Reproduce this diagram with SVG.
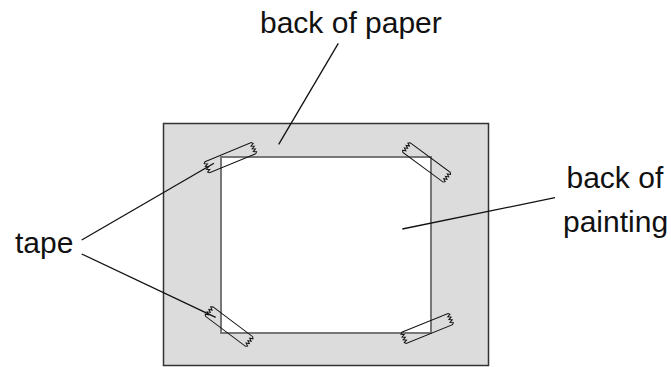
<svg xmlns="http://www.w3.org/2000/svg" width="671" height="367" viewBox="0 0 671 367">
<style>
.lbl{font-family:"Liberation Sans",Arial,sans-serif;font-size:30px;fill:#111}
.tape{fill:none;stroke:#111;stroke-width:1}
.lead{stroke:#111;stroke-width:1.3;fill:none}
</style>
<defs>
<path id="tp" class="tape" d="M0,0 L50,0 L51.5,1.5 L48.5,3 L51.5,4.5 L48.5,6 L51.5,7.5 L48.5,9 L51.5,10.5 L50,12 L0,12 L-1.5,10.5 L1.5,9 L-1.5,7.5 L1.5,6 L-1.5,4.5 L1.5,3 L-1.5,1.5 Z"/>
</defs>
<rect width="671" height="367" fill="#fff"/>
<g id="paper"><rect x="163.5" y="123.5" width="325" height="242" fill="#dcdcdc" stroke="#333" stroke-width="1.5"/></g>
<g id="painting"><rect x="221" y="157" width="210" height="176" fill="#fff" stroke="#777" stroke-width="2"/></g>
<g id="tapes">
<use href="#tp" transform="translate(205,161.7) rotate(-22.4)"/>
<use href="#tp" transform="translate(410,142.7) rotate(36.4)"/>
<use href="#tp" transform="translate(212.7,306.7) rotate(36.9)"/>
<use href="#tp" transform="translate(401.7,332.3) rotate(-22.1)"/>
</g>
<g id="connectors">
<line class="lead" x1="338.3" y1="43.3" x2="278.7" y2="144.3"/>
<line class="lead" x1="81.7" y1="240" x2="214" y2="163.3"/>
<line class="lead" x1="81.7" y1="254" x2="215.7" y2="317.3"/>
<line class="lead" x1="555" y1="197.7" x2="402.3" y2="229"/>
</g>
<g id="labels">
<text class="lbl" x="260" y="33">back of paper</text>
<text class="lbl" x="15" y="253">tape</text>
<text class="lbl" x="566.5" y="188">back of</text>
<text class="lbl" x="563" y="232">painting</text>
</g>
</svg>
